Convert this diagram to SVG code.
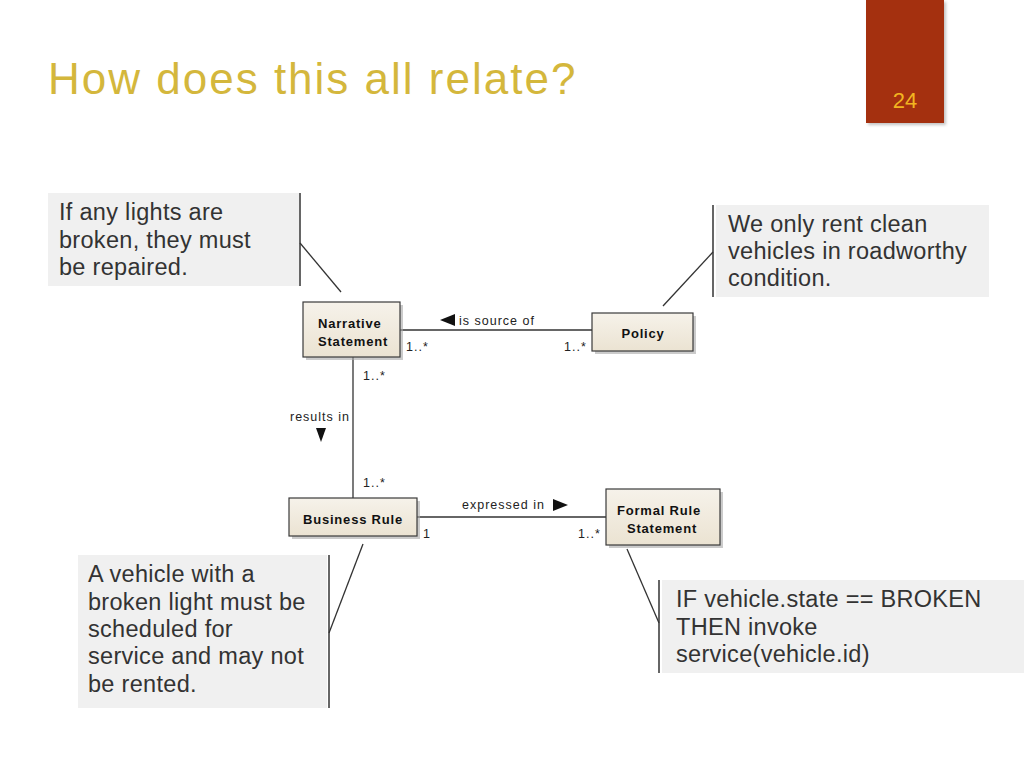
<svg xmlns="http://www.w3.org/2000/svg" width="1024" height="768" viewBox="0 0 1024 768">
<style>
.title{font-family:"Liberation Sans",Arial,sans-serif;font-size:44px;fill:#d4b73c;letter-spacing:2px}
.note{fill:#f0f0f0}
.nt{font-family:"Liberation Sans",Arial,sans-serif;font-size:23.5px;fill:#333;letter-spacing:0.3px}
.bar{stroke:#333;stroke-width:1.5;fill:none}
.cls{fill:url(#beige);stroke:#3a3a3a;stroke-width:1.2}
.sh{fill:#a8a8a8;opacity:0.6}
.cn{font-family:"Liberation Sans",Arial,sans-serif;font-size:13px;font-weight:bold;fill:#111;letter-spacing:0.8px}
.lbl{font-family:"Liberation Sans",Arial,sans-serif;font-size:12.5px;fill:#222;letter-spacing:1px}
.ln{stroke:#333;stroke-width:1.3;fill:none}
</style>
<defs>
<linearGradient id="beige" x1="0" y1="0" x2="0" y2="1">
<stop offset="0" stop-color="#f6f2ea"/>
<stop offset="1" stop-color="#ebe3d2"/>
</linearGradient>
<filter id="blur" x="-20%" y="-20%" width="140%" height="140%"><feGaussianBlur stdDeviation="1.5"/></filter>
</defs>
<rect width="1024" height="768" fill="#fff"/>
<text class="title" x="48" y="94">How does this all relate?</text>
<g id="page">
<rect x="868" y="2" width="78" height="123" fill="#888" opacity="0.5" filter="url(#blur)"/>
<rect x="866" y="0" width="78" height="123" fill="#a4300f"/>
<text x="905" y="108" text-anchor="middle" font-family="Liberation Sans,Arial,sans-serif" font-size="22" fill="#f2b420">24</text>
</g>
<g id="connectors">
<line class="ln" x1="400" y1="330" x2="592" y2="330"/>
<polygon points="440,320 455,314 455,326" fill="#111"/>
<text class="lbl" x="459" y="325">is source of</text>
<text class="lbl" x="406" y="351">1..*</text>
<text class="lbl" x="564" y="351">1..*</text>
<line class="ln" x1="353" y1="357" x2="353" y2="498"/>
<text class="lbl" x="363" y="380">1..*</text>
<text class="lbl" x="290" y="421">results in</text>
<polygon points="316,428 326,428 321,442" fill="#111"/>
<text class="lbl" x="363" y="487">1..*</text>
<line class="ln" x1="417" y1="517" x2="606" y2="517"/>
<text class="lbl" x="462" y="509">expressed in</text>
<polygon points="553,499 568,505 553,511" fill="#111"/>
<text class="lbl" x="423" y="538">1</text>
<text class="lbl" x="578" y="538">1..*</text>
<line class="ln" x1="300" y1="243" x2="341" y2="292"/>
<line class="ln" x1="713" y1="252" x2="663" y2="306"/>
<line class="ln" x1="329" y1="633" x2="363" y2="544"/>
<line class="ln" x1="659" y1="623" x2="627" y2="549"/>
</g>
<g id="narrative">
<rect class="sh" x="306" y="305" width="97" height="55"/>
<rect class="cls" x="303" y="302" width="97" height="55"/>
<text class="cn" x="318" y="328">Narrative</text>
<text class="cn" x="318" y="346">Statement</text>
</g>
<g id="policy">
<rect class="sh" x="595" y="316" width="101" height="38"/>
<rect class="cls" x="592" y="313" width="101" height="38"/>
<text class="cn" x="643" y="338" text-anchor="middle">Policy</text>
</g>
<g id="business">
<rect class="sh" x="292" y="501" width="128" height="38"/>
<rect class="cls" x="289" y="498" width="128" height="38"/>
<text class="cn" x="353" y="524" text-anchor="middle">Business Rule</text>
</g>
<g id="formal">
<rect class="sh" x="609" y="492" width="114" height="56"/>
<rect class="cls" x="606" y="489" width="114" height="56"/>
<text class="cn" x="659" y="515" text-anchor="middle">Formal Rule</text>
<text class="cn" x="662" y="533" text-anchor="middle">Statement</text>
</g>
<g id="note1">
<rect class="note" x="48" y="193" width="251" height="93"/>
<line class="bar" x1="300" y1="193" x2="300" y2="286"/>
<text class="nt" x="59" y="220">If any lights are</text>
<text class="nt" x="59" y="248">broken, they must</text>
<text class="nt" x="59" y="275">be repaired.</text>
</g>
<g id="note2">
<rect class="note" x="716" y="205" width="273" height="92"/>
<line class="bar" x1="713" y1="205" x2="713" y2="297"/>
<text class="nt" x="728" y="232">We only rent clean</text>
<text class="nt" x="728" y="259">vehicles in roadworthy</text>
<text class="nt" x="728" y="286">condition.</text>
</g>
<g id="note3">
<rect class="note" x="78" y="555" width="249" height="153"/>
<line class="bar" x1="329" y1="555" x2="329" y2="708"/>
<text class="nt" x="88" y="582">A vehicle with a</text>
<text class="nt" x="88" y="610">broken light must be</text>
<text class="nt" x="88" y="637">scheduled for</text>
<text class="nt" x="88" y="664">service and may not</text>
<text class="nt" x="88" y="692">be rented.</text>
</g>
<g id="note4">
<rect class="note" x="662" y="580" width="362" height="93"/>
<line class="bar" x1="659" y1="580" x2="659" y2="673"/>
<text class="nt" x="676" y="607">IF vehicle.state == BROKEN</text>
<text class="nt" x="676" y="635">THEN invoke</text>
<text class="nt" x="676" y="662">service(vehicle.id)</text>
</g>
</svg>
